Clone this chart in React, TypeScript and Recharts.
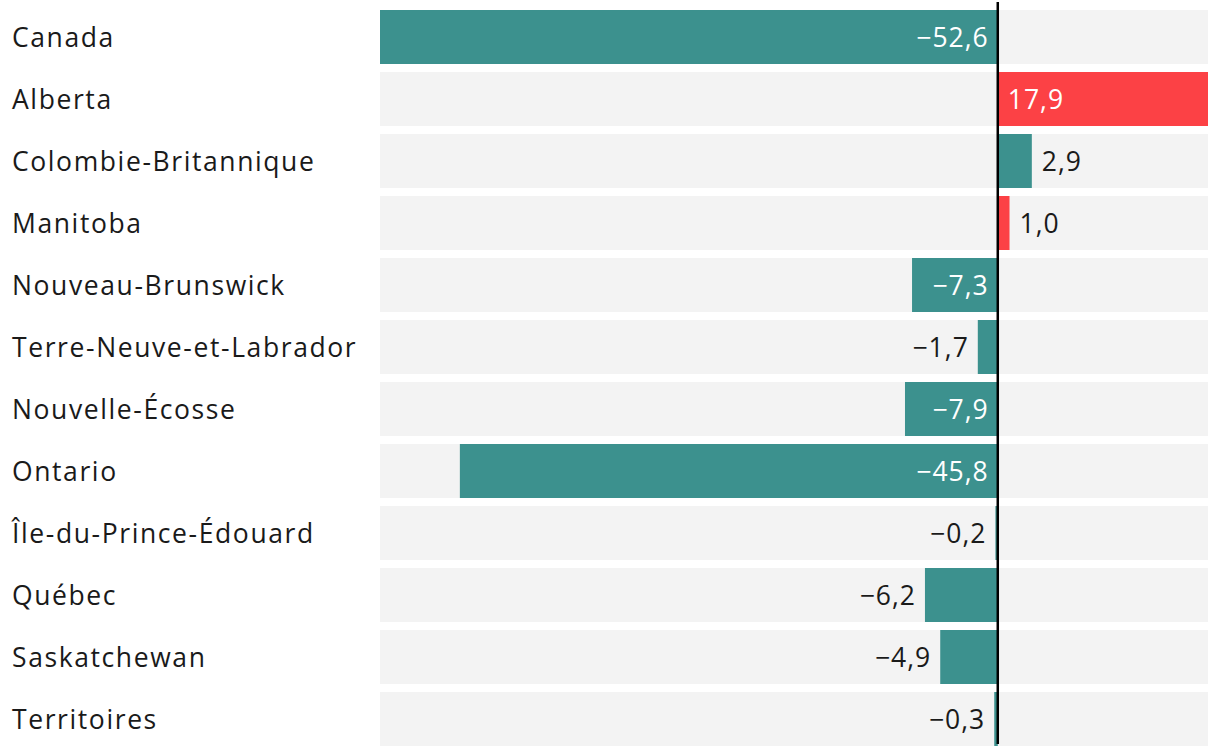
import { Bar, BarChart, Cell, LabelList, ReferenceLine, XAxis, YAxis } from 'recharts'

// Variation par province
const provinces = [
  'Canada',
  'Alberta',
  'Colombie-Britannique',
  'Manitoba',
  'Nouveau-Brunswick',
  'Terre-Neuve-et-Labrador',
  'Nouvelle-Écosse',
  'Ontario',
  'Île-du-Prince-Édouard',
  'Québec',
  'Saskatchewan',
  'Territoires',
]
const values = [-52.6, 17.9, 2.9, 1.0, -7.3, -1.7, -7.9, -45.8, -0.2, -6.2, -4.9, -0.3]
const highlighted = ['Alberta', 'Manitoba']

const data = provinces.map((name, i) => ({ name, value: values[i] }))

const TEAL = '#3c918e'
const RED = '#fc4145'
const FONT = '"Open Sans", sans-serif'
const SIZE = 26.5

const fmt = (v: number) => v.toFixed(1).replace('.', ',').replace('-', '\u2212')

function CategoryTick(props: any) {
  const { y, payload } = props
  return (
    <text
      x={12}
      y={y}
      dy="0.36em"
      textAnchor="start"
      fontSize={SIZE}
      fontFamily={FONT}
      letterSpacing={1.6}
      fill="#1a1a1a"
    >
      {payload.value}
    </text>
  )
}

function ValueLabel(props: any) {
  const { x, y, width, height, value } = props
  const v = Number(value)
  const inside = Math.abs(v) > 7
  const cy = y + height / 2
  const zero = x
  const end = x + width
  let tx: number
  let anchor: 'start' | 'end'
  if (v < 0) {
    tx = (inside ? zero : Math.min(end, zero)) - 9
    anchor = 'end'
  } else {
    tx = (inside ? zero : end) + 10
    anchor = 'start'
  }
  return (
    <text
      x={tx}
      y={cy}
      dy="0.36em"
      textAnchor={anchor}
      fontSize={SIZE}
      fontFamily={FONT}
      letterSpacing={1}
      fill={inside ? '#ffffff' : '#1a1a1a'}
    >
      {fmt(v)}
    </text>
  )
}

function ZeroLine(props: any) {
  const { x1, y1, x2, y2 } = props
  return <line x1={x1} y1={y1 - 6} x2={x2} y2={y2 - 4} stroke="#000" strokeWidth={2.5} />
}

export default function App() {
  return (
    <div style={{ position: 'absolute', left: 0, top: 0 }}>
      <BarChart
        layout="vertical"
        width={1220}
        height={756}
        data={data}
        margin={{ top: 6, right: 12, bottom: 6, left: 0 }}
      >
        <XAxis type="number" hide domain={[-52.6, 17.9]} allowDataOverflow />
        <YAxis
          type="category"
          dataKey="name"
          width={380}
          axisLine={false}
          tickLine={false}
          tick={<CategoryTick />}
          interval={0}
        />
        <Bar dataKey="value" barSize={54} background={{ fill: '#f3f3f3' }} isAnimationActive={false}>
          {data.map((d) => (
            <Cell key={d.name} fill={highlighted.includes(d.name) ? RED : TEAL} />
          ))}
          <LabelList dataKey="value" content={<ValueLabel />} />
        </Bar>
        <ReferenceLine x={0} shape={<ZeroLine />} />
      </BarChart>
    </div>
  )
}
